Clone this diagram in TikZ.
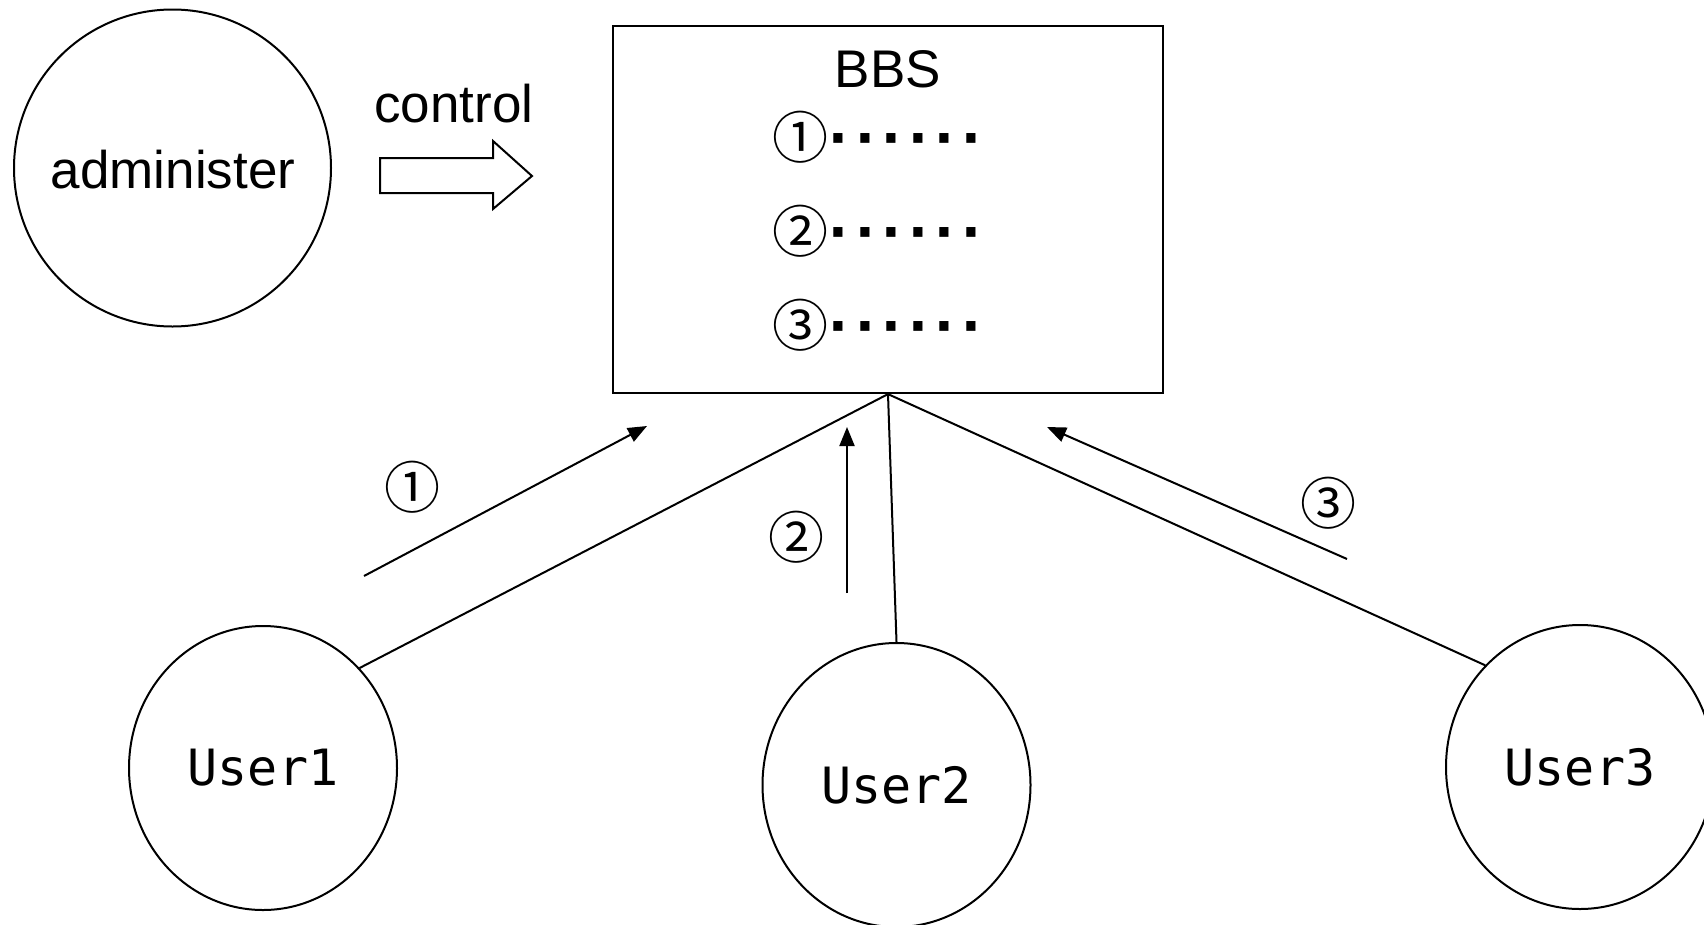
\documentclass[tikz,border=0pt]{standalone}
\usepackage{fontspec}
\setmainfont{Liberation Sans}
\newfontfamily\userfont{DejaVu Sans Mono}
\newfontfamily\circfont{Noto Sans CJK JP}
\newfontfamily\dotfont{DejaVu Sans Bold}
\usetikzlibrary{shapes.geometric,arrows.meta}

% one line of the board: a circled number followed by six dots
\newcommand{\bbsitem}[1]{{\circfont #1}\raisebox{2pt}{\dotfont\fontsize{52}{52}\selectfont
  \kern0.5pt·\kern6.7pt·\kern6.7pt·\kern6.7pt·\kern6.7pt·\kern6.7pt·}}

\tikzset{
  line/.style={line width=2pt},
  person/.style={draw, line width=2pt, ellipse, inner sep=0pt,
    minimum width=268pt, minimum height=284pt,
    font=\userfont\fontsize{50}{50}\selectfont},
  board/.style={draw, line width=2.2pt, rectangle, inner sep=0pt,
    minimum width=550pt, minimum height=367pt},
  bigtext/.style={font=\fontsize{53}{53}\selectfont, inner sep=0pt},
  numlabel/.style={font=\circfont\fontsize{56}{56}\selectfont, inner sep=0pt},
  itemtext/.style={font=\fontsize{56}{56}\selectfont, inner sep=0pt, anchor=base west},
  flow/.style={line width=2pt, -{Triangle[length=19pt,width=15pt]}},
}

\begin{document}
\begin{tikzpicture}[x=1pt, y=-1pt]
  \useasboundingbox (0,0) rectangle (1704,924);

  % administrator and the control arrow
  \node[draw, line width=2pt, circle, inner sep=0pt, minimum size=317pt] (admin) at (172.5,168) {};
  \node[bigtext, anchor=base] (admintext) at (173,188) {administer};
  \node[bigtext, anchor=base] (control) at (454,122) {control};
  \draw[line width=2pt, line join=miter]
    (380,158) -- (493,158) -- (493,141) -- (532,176) -- (493,209) -- (493,193) -- (380,193) -- cycle;

  % the board
  \node[board] (bbs) at (888,209.5) {};
  \node[bigtext, anchor=base] (bbstitle) at (888,87) {BBS};
  \node[itemtext] (item1) at (772,158) {\bbsitem{①}};
  \node[itemtext] (item2) at (772,252) {\bbsitem{②}};
  \node[itemtext] (item3) at (772,346) {\bbsitem{③}};

  % users
  \node[person] (u1) at (263,768) {User1};
  \node[person] (u2) at (896.5,785) {User2};
  \node[person] (u3) at (1580,767) {User3};

  \draw[line] (bbs.south) -- (u1.46.7);
  \draw[line] (bbs.south) -- (u2.north);
  \draw[line] (bbs.south) -- (u3.133.5);

  % posting arrows
  \coordinate (a1s) at (364,576);
  \coordinate (a1e) at (647,426);
  \coordinate (a2s) at (847,593);
  \coordinate (a2e) at (847,427);
  \coordinate (a3s) at (1347,559);
  \coordinate (a3e) at (1047,427);
  \draw[flow] (a1s) -- (a1e);
  \draw[flow] (a2s) -- (a2e);
  \draw[flow] (a3s) -- (a3e);
  \node[numlabel] (n1) at (412,487) {①};
  \node[numlabel] (n2) at (796,537) {②};
  \node[numlabel] (n3) at (1328,503) {③};
\end{tikzpicture}
\end{document}
